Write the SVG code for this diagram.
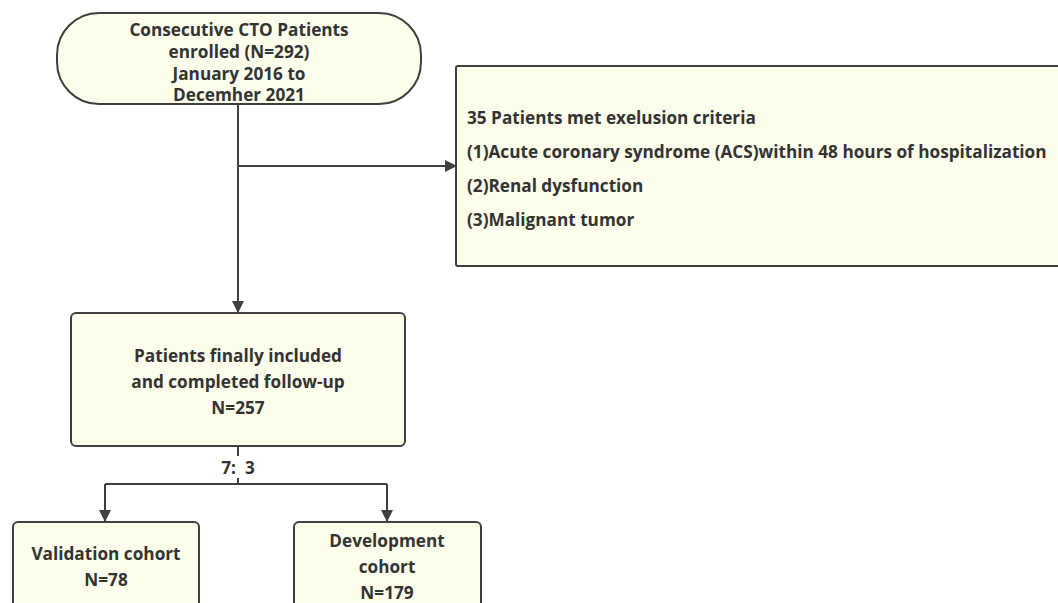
<svg xmlns="http://www.w3.org/2000/svg" width="1058" height="603" viewBox="0 0 1058 603">
<defs>
<style>
.box{fill:#fdfdeb;stroke:#3f3f3f;stroke-width:2}
.t{font-family:"Open Sans","Liberation Sans",sans-serif;font-weight:bold;font-size:17.2px;fill:#333;text-anchor:middle;dominant-baseline:central}
.l{text-anchor:start}
.c{fill:none;stroke:#3f3f3f;stroke-width:2}
</style>
<marker id="ah" viewBox="0 0 12 12" refX="11" refY="6" markerWidth="12" markerHeight="12" markerUnits="userSpaceOnUse" orient="auto">
<path d="M0,0 L12,6 L0,12 Z" fill="#3f3f3f"/>
</marker>
</defs>
<rect width="1058" height="603" fill="#fff"/>
<g id="connectors">
<path class="c" d="M238,104 V312" marker-end="url(#ah)"/>
<path class="c" d="M238,166 H456" marker-end="url(#ah)"/>
<path class="c" d="M238,446 V456"/>
<path class="c" d="M238,478 V484"/>
<path class="c" d="M105,484 H387"/>
<path class="c" d="M105,484 V521" marker-end="url(#ah)"/>
<path class="c" d="M387,484 V521" marker-end="url(#ah)"/>
<text class="t" x="238" y="467" xml:space="preserve">7:  3</text>
</g>
<g id="start">
<rect class="box" x="57" y="13" width="364" height="91" rx="42" ry="42"/>
<text class="t" x="239" y="29">Consecutive CTO Patients</text>
<text class="t" x="239" y="51">enrolled (N=292)</text>
<text class="t" x="239" y="73">January 2016 to</text>
<text class="t" x="239" y="94">Decemher 2021</text>
</g>
<g id="exclusion">
<rect class="box" x="456" y="66" width="620" height="200" rx="2"/>
<text class="t l" x="467" y="117">35 Patients met exelusion criteria</text>
<text class="t l" x="467" y="151">(1)Acute coronary syndrome (ACS)within 48 hours of hospitalization</text>
<text class="t l" x="467" y="185">(2)Renal dysfunction</text>
<text class="t l" x="467" y="219">(3)Malignant tumor</text>
</g>
<g id="included">
<rect class="box" x="71" y="313" width="334" height="133" rx="5"/>
<text class="t" x="238" y="355">Patients finally included</text>
<text class="t" x="238" y="381">and completed follow-up</text>
<text class="t" x="238" y="407">N=257</text>
</g>
<g id="validation">
<rect class="box" x="13" y="522" width="186" height="100" rx="5"/>
<text class="t" x="106" y="553">Validation cohort</text>
<text class="t" x="106" y="579">N=78</text>
</g>
<g id="development">
<rect class="box" x="294" y="522" width="187" height="100" rx="5"/>
<text class="t" x="387" y="540">Development</text>
<text class="t" x="387" y="566">cohort</text>
<text class="t" x="387" y="592">N=179</text>
</g>
</svg>
